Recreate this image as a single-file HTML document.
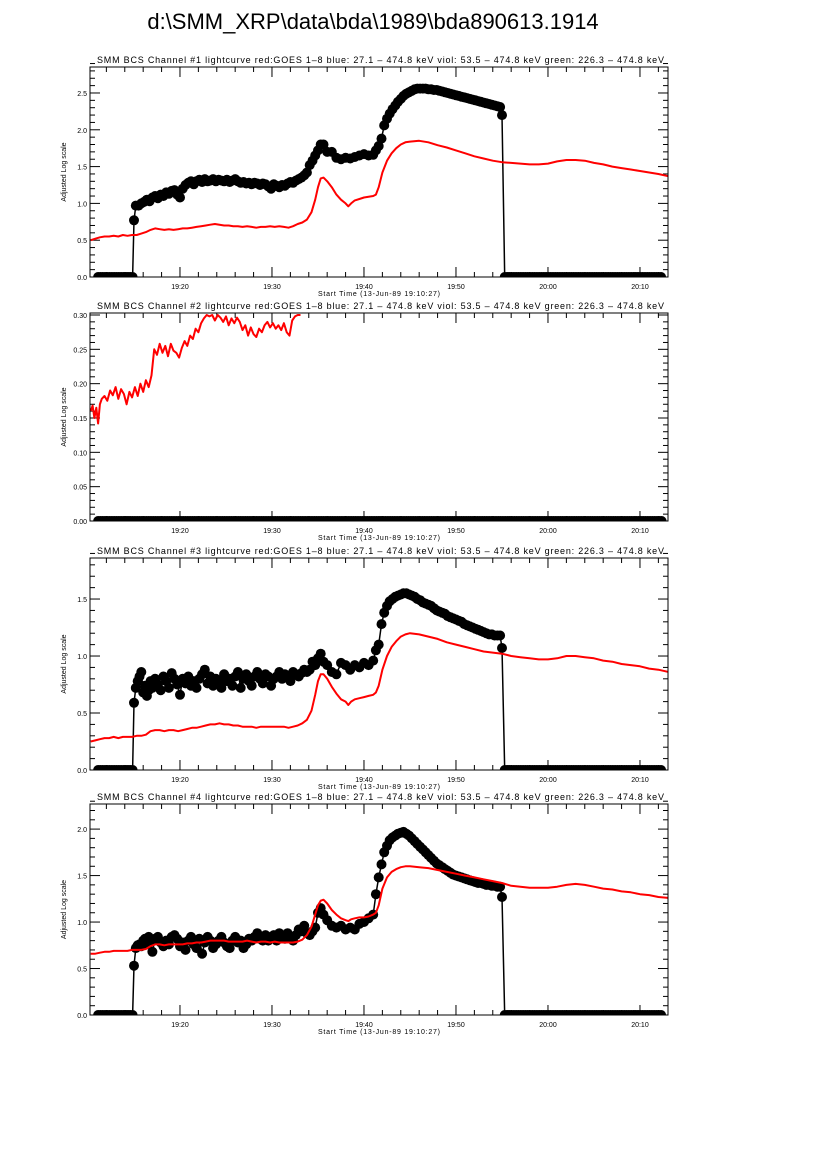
<!DOCTYPE html>
<html><head><meta charset="utf-8">
<style>
html,body{margin:0;padding:0;background:#fff;}
svg{display:block;font-family:"Liberation Sans",sans-serif;}
</style></head>
<body>
<svg id="chart" width="826" height="1169" viewBox="0 0 826 1169" xmlns="http://www.w3.org/2000/svg">
<rect x="0" y="0" width="826" height="1169" fill="#fff"/>
<text x="373" y="29" font-size="22" text-anchor="middle" fill="#000">d:\SMM_XRP\data\bda\1989\bda890613.1914</text>
</svg>
<script>
// x-axis tick labels (minutes after 19:00)
const xTickMinutes = [20, 30, 40, 50, 60, 70];
const xTickLabels = ["19:20", "19:30", "19:40", "19:50", "20:00", "20:10"];

// Channel 1
const ch1RedT = [10.3,10.8,11.3,11.8,12.3,12.8,13.3,13.8,14.3,14.8,15.3,15.8,16.3,16.8,17.3,17.8,18.3,18.8,19.3,19.8,20.3,20.8,21.3,21.8,22.3,22.8,23.3,23.8,24.3,24.8,25.3,25.8,26.3,26.8,27.3,27.8,28.3,28.8,29.3,29.8,30.3,30.8,31.3,31.8,32.3,32.8,33.3,33.8,34.3,34.7,35.0,35.3,35.6,36.0,36.5,37.0,37.5,38.0,38.3,38.6,39.0,39.5,40.0,40.5,41.0,41.3,41.6,42.0,42.5,43.0,43.5,44.0,44.5,45.0,46.0,47.0,48.0,49.0,50.0,51.0,52.0,53.0,54.0,55.0,56.0,57.0,58.0,59.0,60.0,61.0,62.0,63.0,64.0,65.0,66.0,67.0,68.0,69.0,70.0,71.0,72.0,73.1];
const ch1RedV = [0.50,0.52,0.54,0.55,0.55,0.56,0.55,0.57,0.56,0.57,0.57,0.59,0.61,0.64,0.66,0.65,0.64,0.65,0.64,0.65,0.66,0.66,0.67,0.68,0.69,0.70,0.71,0.72,0.71,0.70,0.70,0.69,0.69,0.68,0.69,0.68,0.67,0.68,0.68,0.69,0.68,0.69,0.68,0.67,0.69,0.72,0.74,0.78,0.88,1.05,1.22,1.34,1.35,1.30,1.22,1.12,1.05,1.00,0.96,1.00,1.04,1.06,1.08,1.09,1.10,1.12,1.22,1.42,1.58,1.68,1.75,1.80,1.83,1.84,1.85,1.83,1.79,1.76,1.72,1.68,1.64,1.61,1.58,1.56,1.55,1.54,1.53,1.53,1.54,1.57,1.59,1.59,1.58,1.55,1.53,1.50,1.48,1.46,1.44,1.42,1.40,1.37];
const ch1BlkT = [15.0,15.2,15.5,15.8,16.1,16.4,16.7,17.0,17.3,17.6,17.9,18.2,18.5,18.8,19.1,19.4,19.7,20.0,20.3,20.6,20.9,21.2,21.5,21.8,22.1,22.4,22.7,23.0,23.3,23.6,23.9,24.2,24.5,24.8,25.1,25.4,25.7,26.0,26.3,26.6,26.9,27.2,27.5,27.8,28.1,28.4,28.7,29.0,29.3,29.6,29.9,30.2,30.5,30.8,31.1,31.4,31.7,32.0,32.3,32.6,32.9,33.2,33.5,33.8,34.1,34.4,34.7,35.0,35.3,35.6,36.0,36.5,37.0,37.5,38.0,38.5,39.0,39.5,40.0,40.5,41.0,41.3,41.6,41.9,42.2,42.5,42.8,43.1,43.4,43.7,44.0,44.3,44.6,44.9,45.2,45.5,45.8,46.1,46.4,46.7,47.0,47.3,47.6,47.9,48.2,48.5,48.8,49.1,49.4,49.7,50.0,50.3,50.6,50.9,51.2,51.5,51.8,52.1,52.4,52.7,53.0,53.3,53.6,53.9,54.2,54.5,54.8,55.0];
const ch1BlkV = [0.77,0.97,0.97,1.00,1.02,1.05,1.03,1.08,1.10,1.07,1.12,1.10,1.15,1.13,1.17,1.18,1.12,1.08,1.20,1.25,1.28,1.30,1.26,1.30,1.32,1.29,1.33,1.30,1.31,1.33,1.30,1.32,1.31,1.30,1.32,1.29,1.31,1.33,1.30,1.28,1.29,1.27,1.28,1.26,1.28,1.27,1.25,1.27,1.26,1.23,1.20,1.26,1.24,1.22,1.25,1.24,1.27,1.29,1.28,1.31,1.33,1.35,1.38,1.42,1.52,1.58,1.65,1.72,1.80,1.80,1.70,1.70,1.62,1.60,1.62,1.61,1.63,1.65,1.67,1.65,1.66,1.72,1.78,1.88,2.06,2.15,2.22,2.28,2.33,2.38,2.42,2.46,2.49,2.51,2.53,2.55,2.56,2.56,2.56,2.56,2.55,2.55,2.54,2.54,2.53,2.52,2.51,2.50,2.49,2.48,2.47,2.46,2.45,2.44,2.43,2.42,2.41,2.40,2.39,2.38,2.37,2.36,2.35,2.34,2.33,2.32,2.31,2.20];
const ch1ZeroRuns = [[11.1, 14.9], [55.3, 72.5]];

// Channel 2
const ch2RedT = [10.3,10.5,10.7,10.9,11.1,11.3,11.5,11.8,12.1,12.4,12.7,13.0,13.3,13.6,13.9,14.2,14.5,14.8,15.1,15.4,15.7,16.0,16.3,16.6,16.9,17.2,17.5,17.8,18.1,18.4,18.7,19.0,19.3,19.6,19.9,20.2,20.5,20.8,21.1,21.4,21.7,22.0,22.3,22.6,22.9,23.2,23.5,23.8,24.1,24.4,24.7,25.0,25.3,25.6,25.9,26.2,26.5,26.8,27.1,27.4,27.7,28.0,28.3,28.6,28.9,29.2,29.5,29.8,30.1,30.4,30.7,31.0,31.3,31.6,31.9,32.2,32.5,32.8,33.1];
const ch2RedV = [0.160,0.168,0.150,0.165,0.142,0.170,0.178,0.182,0.175,0.190,0.183,0.195,0.178,0.192,0.185,0.170,0.188,0.180,0.195,0.182,0.200,0.188,0.205,0.195,0.212,0.250,0.242,0.258,0.245,0.255,0.240,0.258,0.248,0.245,0.238,0.252,0.262,0.255,0.270,0.265,0.280,0.275,0.288,0.295,0.300,0.298,0.300,0.292,0.300,0.296,0.290,0.298,0.285,0.295,0.288,0.296,0.290,0.278,0.285,0.270,0.282,0.272,0.268,0.280,0.275,0.285,0.290,0.282,0.288,0.280,0.285,0.278,0.288,0.275,0.270,0.292,0.298,0.300,0.300];
const ch2BlkT = [];
const ch2BlkV = [];
const ch2ZeroRuns = [[11.1, 72.5]];

// Channel 3
const ch3RedT = [10.3,10.8,11.3,11.8,12.3,12.8,13.3,13.8,14.3,14.8,15.3,15.8,16.3,16.8,17.3,17.8,18.3,18.8,19.3,19.8,20.3,20.8,21.3,21.8,22.3,22.8,23.3,23.8,24.3,24.8,25.3,25.8,26.3,26.8,27.3,27.8,28.3,28.8,29.3,29.8,30.3,30.8,31.3,31.8,32.3,32.8,33.3,33.8,34.3,34.7,35.0,35.3,35.6,36.0,36.5,37.0,37.5,38.0,38.3,38.6,39.0,39.5,40.0,40.5,41.0,41.3,41.6,42.0,42.5,43.0,43.5,44.0,44.5,45.0,46.0,47.0,48.0,49.0,50.0,51.0,52.0,53.0,54.0,55.0,56.0,57.0,58.0,59.0,60.0,61.0,62.0,63.0,64.0,65.0,66.0,67.0,68.0,69.0,70.0,71.0,72.0,73.1];
const ch3RedV = [0.25,0.26,0.27,0.28,0.28,0.29,0.28,0.29,0.29,0.29,0.30,0.30,0.31,0.34,0.35,0.35,0.34,0.35,0.35,0.34,0.35,0.36,0.37,0.37,0.38,0.39,0.40,0.40,0.41,0.40,0.40,0.39,0.39,0.38,0.38,0.38,0.37,0.38,0.38,0.38,0.38,0.38,0.38,0.37,0.38,0.39,0.41,0.44,0.52,0.66,0.78,0.84,0.84,0.80,0.73,0.67,0.62,0.60,0.57,0.60,0.62,0.63,0.64,0.65,0.66,0.68,0.74,0.88,1.00,1.08,1.13,1.17,1.19,1.20,1.19,1.17,1.15,1.12,1.10,1.08,1.06,1.04,1.03,1.02,1.00,0.99,0.98,0.97,0.97,0.98,1.00,1.00,0.99,0.98,0.96,0.95,0.93,0.92,0.91,0.89,0.88,0.86];
const ch3BlkT = [15.0,15.2,15.4,15.6,15.8,16.0,16.2,16.4,16.6,16.8,17.0,17.3,17.6,17.9,18.2,18.5,18.8,19.1,19.4,19.7,20.0,20.3,20.6,20.9,21.2,21.5,21.8,22.1,22.4,22.7,23.0,23.3,23.6,23.9,24.2,24.5,24.8,25.1,25.4,25.7,26.0,26.3,26.6,26.9,27.2,27.5,27.8,28.1,28.4,28.7,29.0,29.3,29.6,29.9,30.2,30.5,30.8,31.1,31.4,31.7,32.0,32.3,32.6,32.9,33.2,33.5,33.8,34.1,34.4,34.7,35.0,35.3,35.6,36.0,36.5,37.0,37.5,38.0,38.5,39.0,39.5,40.0,40.5,41.0,41.3,41.6,41.9,42.2,42.5,42.8,43.1,43.4,43.7,44.0,44.3,44.6,44.9,45.2,45.5,45.8,46.1,46.4,46.7,47.0,47.3,47.6,47.9,48.2,48.5,48.8,49.1,49.4,49.7,50.0,50.3,50.6,50.9,51.2,51.5,51.8,52.1,52.4,52.7,53.0,53.3,53.6,53.9,54.2,54.5,54.8,55.0];
const ch3BlkV = [0.59,0.72,0.78,0.82,0.86,0.68,0.74,0.65,0.70,0.78,0.72,0.80,0.75,0.70,0.82,0.78,0.72,0.85,0.80,0.75,0.66,0.80,0.76,0.82,0.74,0.78,0.72,0.80,0.84,0.88,0.76,0.82,0.74,0.80,0.78,0.72,0.84,0.78,0.80,0.74,0.82,0.86,0.72,0.80,0.84,0.78,0.74,0.82,0.86,0.80,0.76,0.84,0.82,0.74,0.80,0.82,0.86,0.80,0.84,0.82,0.78,0.86,0.84,0.82,0.85,0.88,0.86,0.88,0.95,0.92,0.98,1.02,0.95,0.92,0.86,0.84,0.94,0.92,0.88,0.92,0.90,0.94,0.92,0.96,1.05,1.10,1.28,1.38,1.44,1.48,1.50,1.52,1.53,1.54,1.55,1.55,1.54,1.53,1.52,1.50,1.49,1.47,1.46,1.45,1.44,1.42,1.40,1.39,1.38,1.37,1.35,1.34,1.33,1.32,1.31,1.30,1.28,1.27,1.26,1.25,1.24,1.23,1.22,1.21,1.20,1.19,1.19,1.18,1.18,1.18,1.07];
const ch3ZeroRuns = [[11.1, 14.9], [55.3, 72.5]];

// Channel 4
const ch4RedT = ch3RedT;
const ch4RedV = [0.66,0.66,0.67,0.68,0.68,0.69,0.69,0.69,0.69,0.70,0.70,0.70,0.71,0.74,0.76,0.76,0.75,0.76,0.76,0.76,0.76,0.77,0.77,0.78,0.78,0.79,0.80,0.80,0.80,0.80,0.79,0.79,0.79,0.79,0.80,0.79,0.78,0.79,0.79,0.78,0.79,0.78,0.78,0.78,0.78,0.79,0.81,0.86,0.95,1.08,1.18,1.23,1.24,1.20,1.13,1.08,1.04,1.02,1.01,1.03,1.04,1.05,1.05,1.06,1.08,1.10,1.18,1.36,1.48,1.54,1.57,1.59,1.60,1.60,1.59,1.58,1.56,1.54,1.52,1.50,1.48,1.46,1.44,1.42,1.39,1.38,1.37,1.37,1.37,1.38,1.40,1.41,1.40,1.38,1.36,1.35,1.33,1.32,1.30,1.29,1.27,1.26];
const ch4BlkT = ch3BlkT;
const ch4BlkV = [0.53,0.72,0.75,0.76,0.74,0.80,0.82,0.76,0.84,0.80,0.68,0.82,0.84,0.78,0.74,0.80,0.76,0.84,0.86,0.82,0.74,0.78,0.70,0.80,0.84,0.76,0.72,0.82,0.66,0.78,0.84,0.80,0.72,0.76,0.80,0.84,0.78,0.74,0.72,0.80,0.84,0.78,0.80,0.72,0.76,0.82,0.80,0.84,0.88,0.82,0.80,0.86,0.80,0.84,0.86,0.80,0.88,0.84,0.82,0.88,0.84,0.80,0.86,0.92,0.90,0.96,0.88,0.86,0.90,0.94,1.10,1.15,1.08,1.02,0.96,0.94,0.96,0.92,0.94,0.92,0.98,1.00,1.04,1.08,1.30,1.48,1.62,1.75,1.82,1.88,1.91,1.93,1.95,1.96,1.97,1.95,1.93,1.90,1.87,1.84,1.81,1.78,1.75,1.72,1.69,1.66,1.63,1.61,1.59,1.57,1.55,1.53,1.51,1.50,1.49,1.48,1.47,1.46,1.45,1.44,1.43,1.42,1.42,1.41,1.40,1.40,1.39,1.39,1.38,1.38,1.27];
const ch4ZeroRuns = [[11.1, 14.9], [55.3, 72.5]];

const NS = "http://www.w3.org/2000/svg";
const svg = document.getElementById('chart');
const X0 = 90, X1 = 668, T0 = 10.22, PXMIN = 9.2;
function xs(t){ return X0 + (t - T0) * PXMIN; }
function mk(tag, attrs, parent){
  const e = document.createElementNS(NS, tag);
  for (const k in attrs) e.setAttribute(k, attrs[k]);
  (parent || svg).appendChild(e);
  return e;
}
const subtitle = " lightcurve  red:GOES 1\u20138  blue: 27.1 \u2013 474.8 keV  viol: 53.5 \u2013 474.8 keV  green: 226.3 \u2013 474.8 keV";

const panels = [
  {n:1, top:67, bot:277, ymax:2.853, major:0.5, minor:0.1, dec:1, redT:ch1RedT, redV:ch1RedV, bT:ch1BlkT, bV:ch1BlkV, zr:ch1ZeroRuns},
  {n:2, top:313, bot:521, ymax:0.3029, major:0.05, minor:0.01, dec:2, redT:ch2RedT, redV:ch2RedV, bT:ch2BlkT, bV:ch2BlkV, zr:ch2ZeroRuns},
  {n:3, top:558, bot:770, ymax:1.86, major:0.5, minor:0.1, dec:1, redT:ch3RedT, redV:ch3RedV, bT:ch3BlkT, bV:ch3BlkV, zr:ch3ZeroRuns},
  {n:4, top:804, bot:1015, ymax:2.27, major:0.5, minor:0.1, dec:1, redT:ch4RedT, redV:ch4RedV, bT:ch4BlkT, bV:ch4BlkV, zr:ch4ZeroRuns}
];

panels.forEach(p => {
  const g = mk('g', {});
  
  
  const ys = v => p.bot - (v / p.ymax) * (p.bot - p.top);
  const clip = mk('clipPath', {id:'clip' + p.n}, g);
  mk('rect', {x:X0, y:p.top, width:X1 - X0, height:p.bot - p.top}, clip);

  const title = mk('text', {x:97, y:p.top - 4, 'font-size':9, fill:'#000', textLength:567, lengthAdjust:'spacing'}, g);
  title.textContent = 'SMM BCS Channel #' + p.n + subtitle;
  
  

  // y ticks
  const nMinor = Math.round(p.ymax / p.minor);
  for (let i = 0; i <= nMinor; i++) {
    const v = i * p.minor, y = ys(v);
    const isMajor = Math.abs(v / p.major - Math.round(v / p.major)) < 1e-6;
    const len = isMajor ? 10 : 5;
    mk('line', {x1:X0, y1:y, x2:X0 + len, y2:y, stroke:'#000', 'stroke-width':1}, g);
    mk('line', {x1:X1, y1:y, x2:X1 - len, y2:y, stroke:'#000', 'stroke-width':1}, g);
    if (isMajor) {
      const t = mk('text', {x:X0 - 3, y:y + 3, 'font-size':7, 'text-anchor':'end', fill:'#000'}, g);
      t.textContent = v.toFixed(p.dec);
      
      
    }
  }
  // x ticks
  for (let m = 12; m <= 72; m += 2) {
    const x = xs(m), len = (m % 10 === 0) ? 10 : 5;
    mk('line', {x1:x, y1:p.bot, x2:x, y2:p.bot - len, stroke:'#000', 'stroke-width':1}, g);
    mk('line', {x1:x, y1:p.top, x2:x, y2:p.top + len, stroke:'#000', 'stroke-width':1}, g);
  }
  xTickMinutes.forEach((m, i) => {
    const t = mk('text', {x:xs(m), y:p.bot + 12, 'font-size':7, 'text-anchor':'middle', fill:'#000'}, g);
    t.textContent = xTickLabels[i];
    
    
  });
  const xl = mk('text', {x:318, y:p.bot + 19, 'font-size':7, fill:'#000', textLength:122, lengthAdjust:'spacing'}, g);
  xl.textContent = 'Start Time (13-Jun-89 19:10:27)';
  
  
  const yl = mk('text', {x:0, y:0, 'font-size':7, 'text-anchor':'middle', fill:'#000',
    transform:'translate(66,' + ((p.top + p.bot) / 2) + ') rotate(-90)'}, g);
  yl.textContent = 'Adjusted Log scale';
  
  

  const dg = mk('g', {'clip-path':'url(#clip' + p.n + ')'}, g);
  const pts = [];
  const z0 = p.zr[0];
  for (let t = z0[0]; t <= z0[1] + 1e-6; t += 0.25) pts.push([t, 0]);
  p.bT.forEach((t, i) => pts.push([t, p.bV[i]]));
  p.zr.slice(1).forEach(r => { for (let t = r[0]; t <= r[1] + 1e-6; t += 0.25) pts.push([t, 0]); });
  const bl = mk('polyline', {points:pts.map(q => xs(q[0]).toFixed(1) + ',' + ys(q[1]).toFixed(1)).join(' '), fill:'none', stroke:'#000', 'stroke-width':1.5}, dg);
  
  
  pts.forEach(q => {
    const c = mk('circle', {cx:xs(q[0]).toFixed(1), cy:ys(q[1]).toFixed(1), r:5, fill:'#000'}, dg);
    
    
  });
  const rl = mk('polyline', {points:p.redT.map((t, i) => xs(t).toFixed(1) + ',' + ys(p.redV[i]).toFixed(1)).join(' '), fill:'none', stroke:'#ff0000', 'stroke-width':2, 'stroke-linejoin':'round'}, dg);
  
  

  const fr = mk('rect', {x:X0, y:p.top, width:X1 - X0, height:p.bot - p.top, fill:'none', stroke:'#000', 'stroke-width':1}, g);
  
  
});
</script>
</body></html>
